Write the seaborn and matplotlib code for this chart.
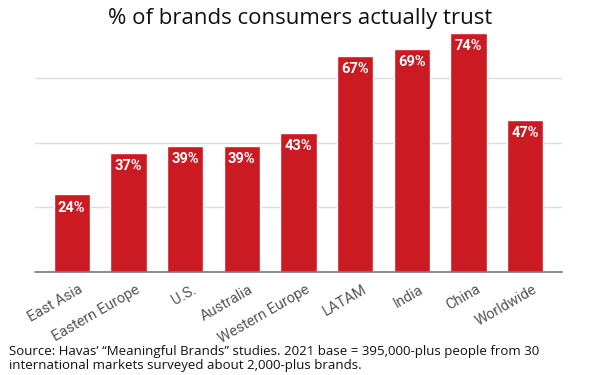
import seaborn as sns
import matplotlib.pyplot as plt
import matplotlib.transforms as mtrans
import numpy as np
import pandas as pd

regions = ['East Asia', 'Eastern Europe', 'U.S.', 'Australia', 'Western Europe',
           'LATAM', 'India', 'China', 'Worldwide']
trust_pct = [24, 37, 39, 39, 43, 67, 69, 74, 47]

df = pd.DataFrame({'region': regions, 'trust': trust_pct})

sns.set_style('white')
plt.rcParams['font.family'] = ['Roboto', 'DejaVu Sans']

fig = plt.figure(figsize=(6, 3.75), dpi=100)
ax = fig.add_axes([0.058, 0.275, 0.879, 0.645])

red = '#cc1a22'
sns.barplot(data=df, x='region', y='trust', color=red, saturation=1,
            width=0.64, ax=ax, zorder=3)

# value labels inside the bars
for i, v in enumerate(trust_pct):
    ax.text(i, v - 1.9, f'{v}%', ha='center', va='top', color='white',
            fontsize=10.5, fontweight='bold', family='Roboto', zorder=4)

ax.set_xlim(-0.65, 8.65)
ax.set_ylim(0, 75)
ax.set_yticks([20, 40, 60])
ax.yaxis.grid(True, color='#dddddd', linewidth=1)
ax.tick_params(axis='y', left=False, labelleft=False)
ax.set_xlabel('')
ax.set_ylabel('')
for s in ['top', 'right', 'left']:
    ax.spines[s].set_visible(False)
ax.spines['bottom'].set_color('#777777')
ax.spines['bottom'].set_linewidth(1.2)
ax.spines['bottom'].set_zorder(5)

ax.tick_params(axis='x', bottom=False, pad=4)
offset = mtrans.ScaledTranslation(5 / 72, 0, fig.dpi_scale_trans)
for lbl in ax.get_xticklabels():
    lbl.set_rotation(30)
    lbl.set_ha('right')
    lbl.set_rotation_mode('anchor')
    lbl.set_color('#555555')
    lbl.set_fontsize(10.5)
    lbl.set_transform(lbl.get_transform() + offset)

fig.text(0.5, 0.95, '% of brands consumers actually trust', ha='center', va='center',
         fontsize=16, family='Open Sans', color='#111111')

fig.text(0.015, 0.008, 'Source: Havas\u2019 \u201cMeaningful Brands\u201d studies. 2021 base = 395,000-plus people from 30\n'
         'international markets surveyed about 2,000-plus brands.',
         ha='left', va='bottom', fontsize=9.5, family='Open Sans', color='#111111',
         linespacing=1.15)

fig.savefig('out.png', dpi=100)
